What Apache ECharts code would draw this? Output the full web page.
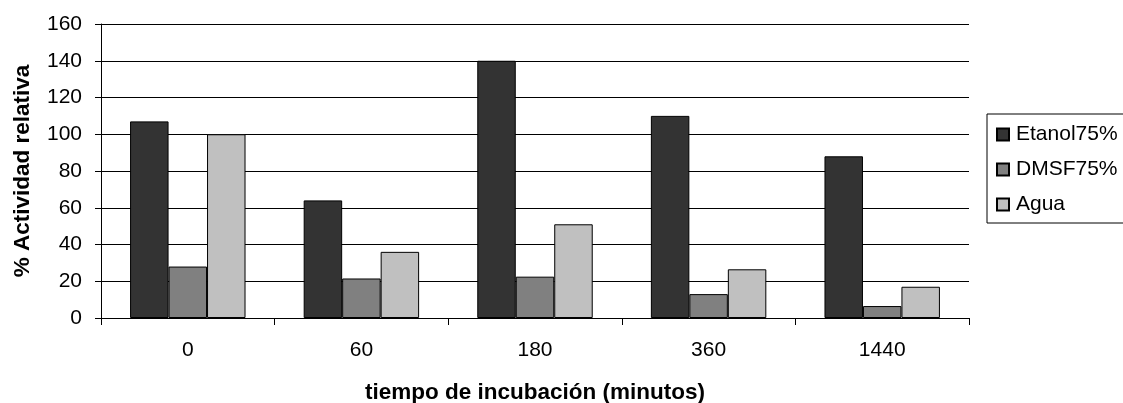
<!DOCTYPE html>
<html><head><meta charset="utf-8">
<script src="https://cdn.jsdelivr.net/npm/echarts@6/dist/echarts.min.js"></script>
<style>html,body{margin:0;padding:0;background:#fff}#c{width:1123px;height:403px}</style>
</head><body><div id="c"></div>
<script>
const categories = ['0', '60', '180', '360', '1440'];
const etanol = [107, 64, 140, 110, 88];
const dmsf = [28, 21.5, 22.5, 13, 6.5];
const agua = [100, 36, 51, 26.5, 17];
const seriesNames = ['Etanol75%', 'DMSF75%', 'Agua'];
const yTicks = { min: 0, max: 160, interval: 20 };

const font = 'Liberation Sans, Arial, sans-serif';
const chart = echarts.init(document.getElementById('c'));
const barStyle = c => ({ color: c, borderColor: '#000', borderWidth: 1 });
chart.setOption({
  animation: false,
  backgroundColor: '#fff',
  grid: { left: 101, right: 154, top: 24, bottom: 85, containLabel: false, outerBoundsMode: 'none' },
  legend: {
    orient: 'vertical', left: 987, top: 114,
    data: seriesNames,
    itemWidth: 12, itemHeight: 12, itemGap: 14,
    padding: [10, 80, 8, 9],
    borderColor: '#000', borderWidth: 1,
    icon: 'rect',
    textStyle: { fontFamily: font, fontSize: 21, color: '#000', padding: [0,0,0,2] }
  },
  xAxis: {
    type: 'category', data: categories,
    axisLine: { lineStyle: { color: '#000', width: 1 } },
    axisTick: { show: true, length: 7, lineStyle: { color: '#000' } },
    axisLabel: { fontFamily: font, fontSize: 21, color: '#000', margin: 22 },
    name: 'tiempo de incubación (minutos)', nameLocation: 'middle', nameGap: 63,
    nameTextStyle: { fontFamily: font, fontSize: 22.5, fontWeight: 'bold', color: '#000' }
  },
  yAxis: {
    type: 'value', min: yTicks.min, max: yTicks.max, interval: yTicks.interval,
    axisLine: { show: true, lineStyle: { color: '#000', width: 1 } },
    axisTick: { show: true, length: 6, lineStyle: { color: '#000' } },
    axisLabel: { fontFamily: font, fontSize: 21, color: '#000', margin: 19 },
    splitLine: { show: true, lineStyle: { color: '#000', width: 1 } },
    name: '% Actividad relativa', nameLocation: 'middle', nameGap: 67,
    nameTextStyle: { fontFamily: font, fontSize: 22.5, fontWeight: 'bold', color: '#000' }
  },
  series: [
    { name: seriesNames[0], type: 'bar', data: etanol, itemStyle: barStyle('#333333'), barGap: '0%', barCategoryGap: '33.5%' },
    { name: seriesNames[1], type: 'bar', data: dmsf, itemStyle: barStyle('#808080'), barGap: '0%', barCategoryGap: '33.5%' },
    { name: seriesNames[2], type: 'bar', data: agua, itemStyle: barStyle('#c0c0c0'), barGap: '0%', barCategoryGap: '33.5%' }
  ]
});
</script></body></html>
